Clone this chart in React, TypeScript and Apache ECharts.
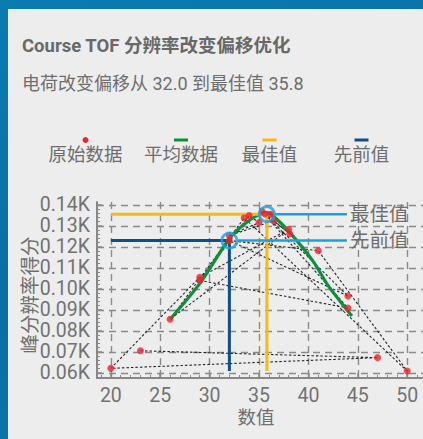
import React, { useEffect, useRef } from "react";
import * as echarts from "echarts";

const FONT = 'Roboto, "Noto Sans CJK SC", sans-serif';
const TEXT = "#6e6e6e";

// raw measurements, in acquisition order
const rawX = [23.0, 47.0, 20.0, 29.0, 38.0, 26.0, 33.5, 50.0, 41.0, 32.0, 44.0, 35.3, 44.0, 29.0, 34.0, 35.0, 32.0, 36.5, 38.1, 35.6, 36.2];
const rawY = [70.5, 67.2, 62.1, 105.5, 128.4, 85.5, 133.8, 60.8, 118.2, 123.0, 96.6, 136.8, 90.9, 104.0, 134.9, 131.6, 125.4, 132.4, 126.3, 135.7, 135.6];

// averaged curve
const avgX = [26.0, 29.0, 32.0, 33.5, 35.0, 35.8, 36.5, 38.0, 40.5, 42.0, 44.4];
const avgY = [85.5, 102.5, 124.0, 130.8, 135.5, 136.4, 134.5, 127.5, 113.0, 101.5, 87.0];

const bestX = 35.8;
const bestY = 135.6;
const prevX = 32.0;
const prevY = 123.0;
const calloutEndX = 43.9;

const xTicks = [20, 25, 30, 35, 40, 45, 50];
const yTicks = [60, 70, 80, 90, 100, 110, 120, 130, 140];
const xMinorTicks = Array.from({ length: 33 }, (_, i) => 19 + i);
const yMinorTicks = Array.from({ length: 42 }, (_, i) => 58 + i * 2);

const legendItems = [
  { name: "原始数据", kind: "dot", color: "#e8262c", cx: 85.5 },
  { name: "平均数据", kind: "line", color: "#0f8f3c", cx: 181 },
  { name: "最佳值", kind: "line", color: "#f8b912", cx: 269.5 },
  { name: "先前值", kind: "line", color: "#0d4f8b", cx: 361.5 },
];

function buildOption() {
  const minX = Math.min(...rawX);
  const minY = Math.min(...rawY);
  const raw = rawX.map((x, i) => [x, rawY[i]]);
  const avg = avgX.map((x, i) => [x, avgY[i]]);
  const axisColor = "#878787";

  const legendGraphics: any[] = [];
  legendItems.forEach((it) => {
    if (it.kind === "dot") {
      legendGraphics.push({ type: "circle", shape: { cx: it.cx, cy: 140, r: 3 }, style: { fill: it.color } });
    } else {
      legendGraphics.push({ type: "rect", shape: { x: it.cx - 7, y: 138.5, width: 14, height: 3 }, style: { fill: it.color } });
    }
    legendGraphics.push({
      type: "text",
      x: it.cx,
      y: 155,
      style: { text: it.name, fill: TEXT, font: `18.5px ${FONT}`, align: "center", verticalAlign: "middle" },
    });
  });

  return {
    animation: false,
    backgroundColor: "transparent",
    grid: { left: 97, top: 202, width: 326, height: 176 },
    graphic: [
      {
        type: "text",
        x: 22,
        y: 45.5,
        style: { text: "Course TOF 分辨率改变偏移优化", fill: "#686868", font: `bold 18.5px ${FONT}`, verticalAlign: "middle" },
      },
      {
        type: "text",
        x: 22,
        y: 83.5,
        style: { text: "电荷改变偏移从 32.0 到最佳值 35.8", fill: TEXT, font: `18px ${FONT}`, verticalAlign: "middle" },
      },
      ...legendGraphics,
      {
        type: "text",
        x: 30,
        y: 295,
        rotation: Math.PI / 2,
        style: { text: "峰分辨率得分", fill: TEXT, font: `19.5px ${FONT}`, align: "center", verticalAlign: "middle" },
      },
      {
        type: "text",
        x: 256,
        y: 418,
        style: { text: "数值", fill: TEXT, font: `18.5px ${FONT}`, align: "center", verticalAlign: "middle" },
      },
    ],
    xAxis: [
      {
        type: "value",
        min: 18.6,
        max: 51.6,
        axisLine: { show: true, lineStyle: { color: axisColor, width: 2 } },
        axisTick: { show: true, inside: true, length: 5, customValues: xTicks, lineStyle: { color: axisColor, width: 1.5 } },
        axisLabel: { customValues: xTicks, fontSize: 19.5, color: "#727272", margin: 8, fontFamily: FONT },
        splitLine: { show: true, lineStyle: { color: "#8a8a8a", width: 1.4, type: [7, 5] } },
      },
      {
        type: "value",
        min: 18.6,
        max: 51.6,
        position: "bottom",
        axisLine: { show: false },
        axisTick: { show: true, inside: true, length: 3, customValues: xMinorTicks, lineStyle: { color: axisColor, width: 1 } },
        axisLabel: { show: false },
        splitLine: { show: false },
      },
    ],
    yAxis: [
      {
        type: "value",
        min: 57.5,
        max: 141.4,
        axisLine: { show: true, lineStyle: { color: axisColor, width: 2 } },
        axisTick: { show: true, inside: true, length: 5, customValues: yTicks, lineStyle: { color: axisColor, width: 1.5 } },
        axisLabel: {
          customValues: yTicks,
          fontSize: 19.5,
          color: "#727272",
          margin: 7,
          fontFamily: FONT,
          formatter: (v: number) => (v / 1000).toFixed(2) + "K",
        },
        splitLine: { show: true, lineStyle: { color: "#8a8a8a", width: 1.4, type: [7, 5] } },
      },
      {
        type: "value",
        min: 57.5,
        max: 141.4,
        position: "left",
        axisLine: { show: false },
        axisTick: { show: true, inside: true, length: 3, customValues: yMinorTicks, lineStyle: { color: axisColor, width: 1 } },
        axisLabel: { show: false },
        splitLine: { show: false },
      },
    ],
    series: [
      {
        name: "原始数据路径",
        type: "line",
        data: raw,
        symbol: "none",
        lineStyle: { color: "#262626", width: 1.1, type: [2.5, 2] },
        z: 2,
      },
      {
        name: "平均数据",
        type: "line",
        data: avg,
        symbol: "none",
        smooth: 0.25,
        lineStyle: { color: "#0f8f3c", width: 3.2 },
        z: 3,
      },
      {
        name: "最佳值",
        type: "line",
        data: [[minX, bestY], [bestX, bestY], [bestX, minY]],
        symbol: "none",
        lineStyle: { color: "#f8b912", width: 3 },
        z: 3,
      },
      {
        name: "先前值",
        type: "line",
        data: [[minX, prevY], [prevX, prevY], [prevX, minY]],
        symbol: "none",
        lineStyle: { color: "#0d4f8b", width: 3 },
        z: 3,
      },
      {
        name: "最佳值",
        type: "line",
        data: [[bestX + 0.85, bestY], [calloutEndX, bestY]],
        symbol: "none",
        lineStyle: { color: "#1a9fe0", width: 2.5 },
        endLabel: { show: true, formatter: "{a}", color: TEXT, fontSize: 19.5, fontFamily: FONT, distance: 3 },
        z: 4,
      },
      {
        name: "先前值",
        type: "line",
        data: [[prevX + 0.85, prevY], [calloutEndX, prevY]],
        symbol: "none",
        lineStyle: { color: "#1a9fe0", width: 2.5 },
        endLabel: { show: true, formatter: "{a}", color: TEXT, fontSize: 19.5, fontFamily: FONT, distance: 3 },
        z: 4,
      },
      {
        name: "原始数据",
        type: "scatter",
        data: raw,
        symbol: "circle",
        symbolSize: 7,
        itemStyle: { color: "#e8262c" },
        z: 5,
      },
      {
        name: "标记",
        type: "scatter",
        data: [[bestX, bestY], [prevX, prevY]],
        symbol: "circle",
        symbolSize: 15,
        itemStyle: { color: "rgba(0,0,0,0)", borderColor: "#1a9fe0", borderWidth: 2.8 },
        z: 6,
      },
    ],
  };
}

export default function App() {
  const ref = useRef<HTMLDivElement>(null);
  useEffect(() => {
    const chart = echarts.init(ref.current!, null, { renderer: "svg", width: 423, height: 439 });
    chart.setOption(buildOption() as any);
    return () => chart.dispose();
  }, []);
  return (
    <div
      style={{
        position: "fixed",
        left: 0,
        top: 0,
        width: 423,
        height: 439,
        overflow: "hidden",
        background: "linear-gradient(160deg, #0b7bb1 0%, #0a6fa3 50%, #0b78ad 100%)",
      }}
    >
      <div style={{ position: "absolute", left: 8, top: 9, right: 0, bottom: 0, background: "#ededed" }} />
      <div ref={ref} style={{ position: "absolute", left: 0, top: 0, width: 423, height: 439 }} />
    </div>
  );
}
